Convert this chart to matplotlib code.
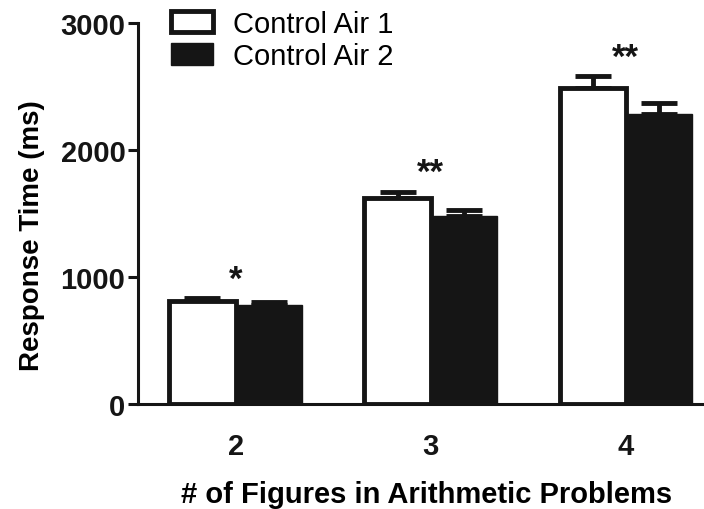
import matplotlib
matplotlib.use("Agg")
import matplotlib.pyplot as plt
import numpy as np

groups = ["2", "3", "4"]
air1_mean = [810, 1620, 2490]
air1_err = [25, 50, 90]
air2_mean = [780, 1480, 2280]
air2_err = [20, 50, 90]
stars = ["*", "**", "**"]

plt.rcParams["font.family"] = ["Liberation Sans", "DejaVu Sans"]
ink = "#151515"

fig = plt.figure(figsize=(7.04, 5.1), dpi=100)
ax = fig.add_axes([0.196, 0.206, 0.804, 0.747])

x = np.arange(len(groups))
w = 0.34

ax.bar(x - w / 2, air1_mean, w, color="white", edgecolor=ink,
       linewidth=3.5, label="Control Air 1", zorder=3)
ax.bar(x + w / 2, air2_mean, w, color=ink, edgecolor=ink,
       linewidth=1, label="Control Air 2", zorder=3)

# only the upper half of the error bar is shown
ax.errorbar(x - w / 2, air1_mean, yerr=[np.zeros(3), air1_err], fmt="none",
            ecolor=ink, elinewidth=3.5, capsize=13, capthick=3.5, zorder=2)
ax.errorbar(x + w / 2, air2_mean, yerr=[np.zeros(3), air2_err], fmt="none",
            ecolor=ink, elinewidth=3.5, capsize=13, capthick=3.5, zorder=2)

for i, s in enumerate(stars):
    top = max(air1_mean[i] + air1_err[i], air2_mean[i] + air2_err[i])
    ax.text(x[i], top + 20, s, ha="center", va="bottom", fontsize=25,
            fontweight="bold", color=ink)

ax.set_xlim(-0.5, 2.4)
ax.set_ylim(0, 3000)
ax.set_yticks([0, 1000, 2000, 3000])
ax.set_xticks(x)
ax.set_xticklabels(groups)

for side in ["top", "right"]:
    ax.spines[side].set_visible(False)
for side in ["left", "bottom"]:
    ax.spines[side].set_linewidth(2.2)
    ax.spines[side].set_color(ink)

ax.tick_params(axis="y", length=7, width=2.2, labelsize=21, pad=2, colors=ink)
ax.tick_params(axis="x", length=0, labelsize=21, pad=20, colors=ink)
for lab in ax.get_xticklabels() + ax.get_yticklabels():
    lab.set_fontweight("bold")

ax.set_ylabel("Response Time (ms)", fontsize=20, fontweight="bold")
ax.set_xlabel("# of Figures in Arithmetic Problems", fontsize=21,
              fontweight="bold")
ax.yaxis.set_label_coords(-0.165, 0.445)
ax.xaxis.set_label_coords(0.51, -0.2)

fig.legend(loc="upper left", bbox_to_anchor=(0.205, 1.03), frameon=False,
           fontsize=21, handlelength=1.45, handleheight=0.75,
           handletextpad=0.7, labelspacing=0.15)

fig.savefig("out.png", dpi=100)
